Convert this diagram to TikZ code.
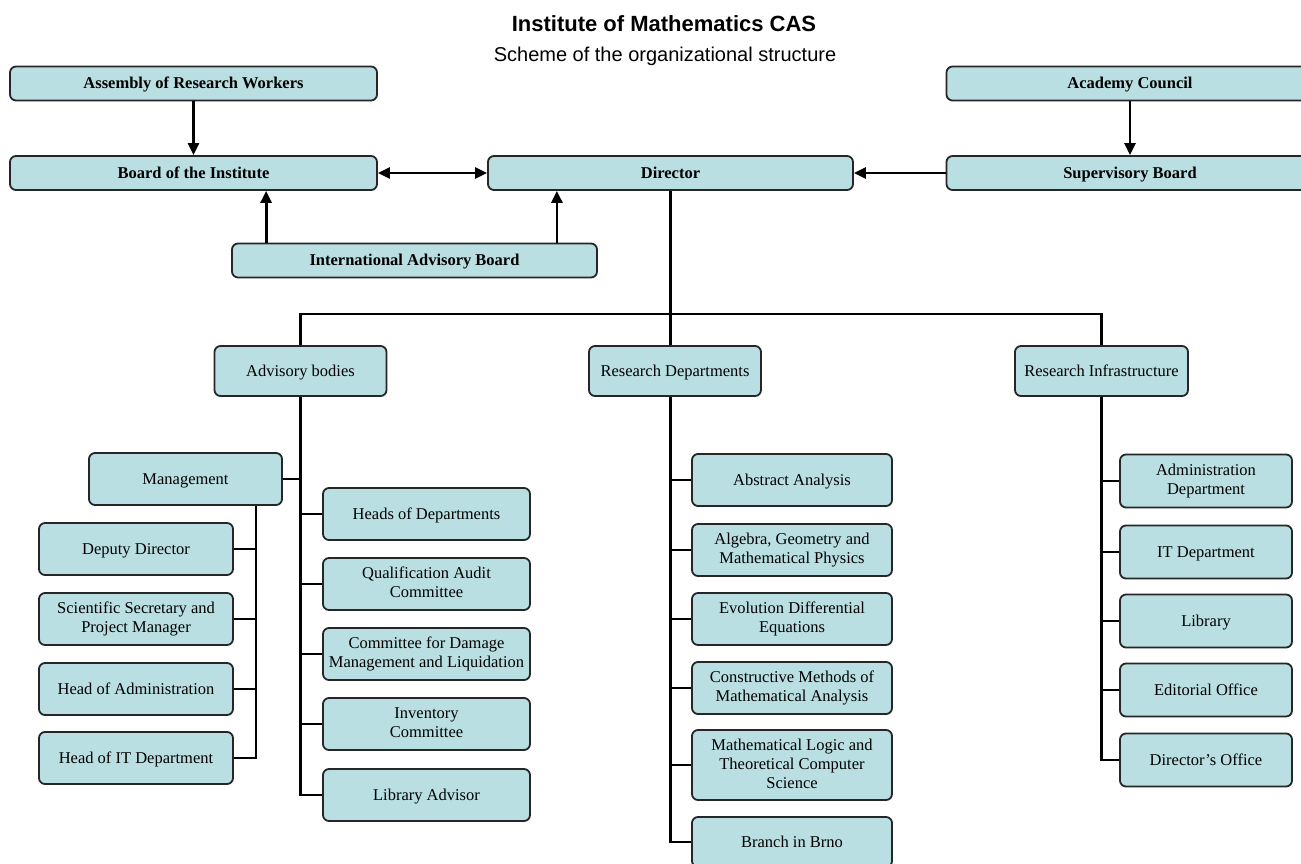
\documentclass[tikz,border=0pt]{standalone}
\usepackage{fontspec}
\setmainfont{Liberation Serif}
\newfontfamily\headfont{Liberation Sans}
\usepackage{tikz}
\usetikzlibrary{arrows.meta,positioning}
\usepackage{xcolor}
\definecolor{boxfill}{RGB}{185,223,226}
\newcommand{\boxfont}{\fontsize{16.5}{19}\selectfont}
\newcommand{\topfont}{\bfseries\fontsize{16.5}{19}\selectfont}

\tikzset{
  orgbox/.style={draw=black!85, line width=1.8pt, fill=boxfill, rounded corners=6pt,
    align=center, inner sep=1pt,
    execute at begin node=\rule{0pt}{14pt}, execute at end node=\rule[-3pt]{0pt}{3pt}},
  topbox/.style={orgbox, minimum height=34pt, font=\topfont},
  unitbox/.style={orgbox, minimum height=52pt, font=\boxfont},
  conn/.style={line width=2.8pt, black},
  arr/.style={conn, -{Triangle[length=12pt,width=11pt]}},
  dblarr/.style={conn, {Triangle[length=12pt,width=11pt]}-{Triangle[length=12pt,width=11pt]}}
}

\begin{document}
\begin{tikzpicture}[x=1pt, y=-1pt]
  \clip (0,0) rectangle (1301,864);
  \fill[white] (0,0) rectangle (1301,864);

  % Heading
  \node[font=\headfont\bfseries\fontsize{22}{26}\selectfont] (title) at (664,24) {Institute of Mathematics CAS};
  \node[font=\headfont\fontsize{20}{24}\selectfont] (subtitle) at (665,56) {Scheme of the organizational structure};

  % Governing bodies
  \node[topbox, minimum width=367pt] (assembly) at (193.5,83.5) {Assembly of Research Workers};
  \node[topbox, minimum width=367pt] (council) at (1130,83.5) {Academy Council};
  \node[topbox, minimum width=367pt] (board) at (193.5,173) {Board of the Institute};
  \node[topbox, minimum width=365pt] (director) at (670.5,173) {Director};
  \node[topbox, minimum width=367pt] (superv) at (1130,173) {Supervisory Board};
  \node[topbox, minimum width=365pt] (intl) at (414.5,260.5) {International Advisory Board};

  \draw[arr] (assembly) -- (board);
  \draw[arr] (council) -- (superv);
  \draw[dblarr] (board) -- (director);
  \draw[arr] (superv) -- (director);
  \draw[arr] ([xshift=35pt]intl.north west) -- ([xshift=35pt]intl.north west |- board.south);
  \draw[arr] ([xshift=-41pt]intl.north east) -- ([xshift=-41pt]intl.north east |- director.south);

  % Three branches
  \node[unitbox, minimum width=172pt, minimum height=50pt] (advisory) at (300.5,371) {Advisory bodies};
  \node[unitbox, minimum width=172pt, minimum height=50pt] (resdep) at (675,371) {Research Departments};
  \node[unitbox, minimum width=173pt, minimum height=50pt] (infra) at (1101.5,371) {Research Infrastructure};

  \coordinate (hub) at (670.5,314);
  \draw[conn] (director.south) -- (hub);
  \draw[conn] (advisory.north) |- (hub) -| (infra.north);
  \draw[conn] (hub) -- (hub |- resdep.north);

  % Advisory bodies
  \node[unitbox, minimum width=193pt] (mgmt) at (185.5,479) {Management};
  \node[unitbox, minimum width=194pt] (deputy) at (136,549) {Deputy Director};
  \node[unitbox, minimum width=194pt] (secretary) at (136,619) {Scientific Secretary and\\Project Manager};
  \node[unitbox, minimum width=194pt] (headadmin) at (136,689) {Head of Administration};
  \node[unitbox, minimum width=194pt] (headit) at (136,758) {Head of IT Department};
  \node[unitbox, minimum width=207pt] (heads) at (426.5,514) {Heads of Departments};
  \node[unitbox, minimum width=207pt] (qualif) at (426.5,584) {Qualification Audit\\Committee};
  \node[unitbox, minimum width=207pt] (damage) at (426.5,654) {Committee for Damage\\Management and Liquidation};
  \node[unitbox, minimum width=207pt] (inventory) at (426.5,724) {Inventory\\Committee};
  \node[unitbox, minimum width=207pt] (libadv) at (426.5,795) {Library Advisor};

  \draw[conn] (advisory.south) |- (libadv.west);
  \foreach \n in {mgmt.east,heads.west,qualif.west,damage.west,inventory.west}
    \draw[conn] (advisory.south |- \n) -- (\n);
  \coordinate (mspine) at ([xshift=-27pt]mgmt.south east);
  \draw[conn] (mspine) |- (headit.east);
  \foreach \n in {deputy,secretary,headadmin}
    \draw[conn] (mspine |- \n.east) -- (\n.east);

  % Research departments
  \node[unitbox, minimum width=200pt] (abstract) at (792,480) {Abstract Analysis};
  \node[unitbox, minimum width=200pt] (algebra) at (792,550) {Algebra, Geometry and\\Mathematical Physics};
  \node[unitbox, minimum width=200pt] (evolution) at (792,619) {Evolution Differential\\Equations};
  \node[unitbox, minimum width=200pt] (constructive) at (792,688) {Constructive Methods of\\Mathematical Analysis};
  \node[unitbox, minimum width=200pt, minimum height=70pt] (logic) at (792,765) {Mathematical Logic and\\Theoretical Computer\\Science};
  \node[unitbox, minimum width=200pt, minimum height=50pt] (brno) at (792,842) {Branch in Brno};

  \draw[conn] (hub |- resdep.south) |- (brno.west);
  \foreach \n in {abstract,algebra,evolution,constructive,logic}
    \draw[conn] (hub |- \n.west) -- (\n.west);

  % Research infrastructure
  \node[unitbox, minimum width=172pt, minimum height=53pt] (admindep) at (1206,481) {Administration\\Department};
  \node[unitbox, minimum width=172pt, minimum height=53pt] (itdep) at (1206,552) {IT Department};
  \node[unitbox, minimum width=172pt, minimum height=53pt] (library) at (1206,621) {Library};
  \node[unitbox, minimum width=172pt, minimum height=53pt] (editorial) at (1206,690) {Editorial Office};
  \node[unitbox, minimum width=172pt, minimum height=53pt] (diroffice) at (1206,760) {Director’s Office};

  \draw[conn] (infra.south) |- (diroffice.west);
  \foreach \n in {admindep,itdep,library,editorial}
    \draw[conn] (infra.south |- \n.west) -- (\n.west);
\end{tikzpicture}
\end{document}
